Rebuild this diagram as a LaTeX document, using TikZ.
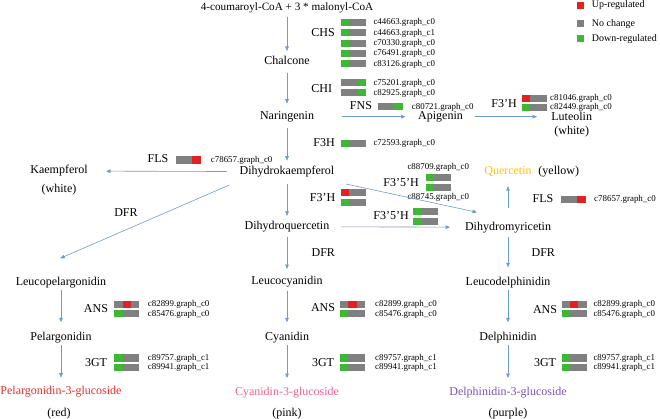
\documentclass[tikz,border=0pt]{standalone}
\usepackage{fontspec}
\setmainfont{Liberation Serif}
\usetikzlibrary{arrows.meta,calc}
\definecolor{arrc}{RGB}{108,155,210}
\definecolor{bred}{RGB}{228,32,32}
\definecolor{bgrn}{RGB}{62,184,52}
\definecolor{bgry}{RGB}{128,128,128}
\definecolor{pred}{RGB}{230,48,40}
\definecolor{cpink}{RGB}{232,98,150}
\definecolor{dpur}{RGB}{122,82,182}
\definecolor{qyel}{RGB}{255,192,0}
\newcommand\ebar[5]{%
  \fill[#3] (#1,#2) rectangle ++(8.33,7.2);
  \fill[#4] (#1+8.33,#2) rectangle ++(8.34,7.2);
  \fill[#5] (#1+16.67,#2) rectangle ++(8.33,7.2);}
\begin{document}
\begin{tikzpicture}[x=1pt,y=-1pt,
  every node/.style={inner sep=0pt},
  txt/.style={font=\fontsize{12}{14}\selectfont, text height=8pt, text depth=2pt},
  headtxt/.style={font=\fontsize{11.2}{13}\selectfont, text height=8pt, text depth=2.5pt},
  gid/.style={font=\fontsize{8.9}{10}\selectfont, anchor=west, text height=6pt, text depth=1.5pt},
  leg/.style={font=\fontsize{10}{12}\selectfont, anchor=west, text height=7pt, text depth=2pt},
  arr/.style={draw=arrc, line width=0.6pt, -{Triangle[length=4.5pt,width=3.6pt]}}]
\useasboundingbox (0,0) rectangle (660,419);

% legend
\fill[bred] (576.6,1.6) rectangle ++(7.4,7.4);
\fill[bgry] (576.6,20) rectangle ++(7.4,7.4);
\fill[bgrn] (576.6,35) rectangle ++(7.4,7.4);
\node[leg] (legu) at (591.7,5.5) {Up-regulated};
\node[leg] (legn) at (591.7,23.6) {No change};
\node[leg] (legd) at (591.7,38.8) {Down-regulated};

% compounds
\node[headtxt] (src) at (287,8) {4-coumaroyl-CoA + 3 * malonyl-CoA};
\node[txt] (chal) at (287,62) {Chalcone};
\node[txt] (nar) at (287,116.7) {Naringenin};
\node[txt] (api) at (440.5,116.7) {Apigenin};
\node[txt] (lut) at (571.7,117.5) {Luteolin};
\node[txt] (lutc) at (571.7,132) {(white)};
\node[txt] (dhk) at (287,171.7) {Dihydrokaempferol};
\node[txt] (kae) at (59,171) {Kaempferol};
\node[txt] (kaec) at (59,190) {(white)};
\node[txt] (dhq) at (287,226.7) {Dihydroquercetin};
\node[txt] (dhm) at (508,227.3) {Dihydromyricetin};
\node[txt, text=qyel] (que) at (508,171.7) {Quercetin};
\node[txt] (quec) at (558.8,171.7) {(yellow)};
\node[txt] (lpel) at (61,282.3) {Leucopelargonidin};
\node[txt] (pel) at (61,337.3) {Pelargonidin};
\node[txt, text=pred] (p3g) at (61,391.7) {Pelargonidin-3-glucoside};
\node[txt] (pelc) at (59,413.3) {(red)};
\node[txt] (lcy) at (287,281.5) {Leucocyanidin};
\node[txt] (cy) at (287,337.3) {Cyanidin};
\node[txt, text=cpink] (c3g) at (287,392) {Cyanidin-3-glucoside};
\node[txt] (cyc) at (287,413.3) {(pink)};
\node[txt] (ld) at (508,282.3) {Leucodelphinidin};
\node[txt] (del) at (508,337.3) {Delphinidin};
\node[txt, text=dpur] (d3g) at (508,392) {Delphinidin-3-glucoside};
\node[txt] (delc) at (508,413.3) {(purple)};

% enzymes
\node[txt] (eCHS) at (323,34) {CHS};
\node[txt] (eCHI) at (321.7,89.3) {CHI};
\node[txt] (eFNS) at (361,106.7) {FNS};
\node[txt] (eF3Ha) at (504,104.3) {F3’H};
\node[txt] (eF3H) at (324,143.3) {F3H};
\node[txt] (eFLSa) at (158,160) {FLS};
\node[txt] (eF3Hb) at (322.5,199) {F3’H};
\node[txt] (eF35a) at (401,184) {F3’5’H};
\node[txt] (eF35b) at (391,216.7) {F3’5’H};
\node[txt] (eFLSb) at (543,200) {FLS};
\node[txt] (eDFRa) at (126,213.3) {DFR};
\node[txt] (eDFRb) at (323.3,253.3) {DFR};
\node[txt] (eDFRc) at (543.3,253.3) {DFR};
\node[txt] (eANSa) at (96,309.3) {ANS};
\node[txt] (eANSb) at (323,308.5) {ANS};
\node[txt] (eANSc) at (545,310) {ANS};
\node[txt] (e3GTa) at (96,363.3) {3GT};
\node[txt] (e3GTb) at (323,363) {3GT};
\node[txt] (e3GTc) at (545,363) {3GT};

% CHS
\ebar{340.7}{19}{bgrn}{bgry}{bgry}
\ebar{340.7}{29.3}{bgrn}{bgry}{bgry}
\ebar{340.7}{39.6}{bgrn}{bgry}{bgry}
\ebar{340.7}{49.9}{bgrn}{bgry}{bgry}
\ebar{340.7}{60.2}{bgrn}{bgry}{bgry}
\node[gid] (g1) at (373.3,22.6) {c44663.graph\_c0};
\node[gid] (g2) at (373.3,32.9) {c44663.graph\_c1};
\node[gid] (g3) at (373.3,43.2) {c70330.graph\_c0};
\node[gid] (g4) at (373.3,53.5) {c76491.graph\_c0};
\node[gid] (g5) at (373.3,63.8) {c83126.graph\_c0};
% CHI
\ebar{341}{79.3}{bgry}{bgry}{bgrn}
\ebar{341}{89.3}{bgry}{bgry}{bgrn}
\node[gid] (g6) at (373.3,82.9) {c75201.graph\_c0};
\node[gid] (g7) at (373.3,92.9) {c82925.graph\_c0};
% FNS
\ebar{377.7}{103.3}{bgry}{bgry}{bgrn}
\node[gid] (g8) at (411.7,106.9) {c80721.graph\_c0};
% F3'H top
\ebar{521.7}{94.7}{bred}{bgry}{bgry}
\ebar{521.7}{104}{bgrn}{bgry}{bgry}
\node[gid] (g9) at (550,98.3) {c81046.graph\_c0};
\node[gid] (g10) at (550,107.6) {c82449.graph\_c0};
% F3H
\ebar{340.7}{140}{bgrn}{bgry}{bgry}
\node[gid] (g11) at (373.3,143.6) {c72593.graph\_c0};
% FLS left
\ebar{175.7}{156.5}{bgry}{bgry}{bred}
\node[gid] (g12) at (210.7,160.1) {c78657.graph\_c0};
% F3'H middle
\ebar{341}{189.3}{bred}{bgry}{bgry}
\ebar{341}{199.3}{bgrn}{bgry}{bgry}
% F3'5'H upper
\ebar{426}{174.3}{bgrn}{bgry}{bgry}
\ebar{426}{184.3}{bgrn}{bgry}{bgry}
\node[gid] (g13) at (407.3,167.3) {c88709.graph\_c0};
\node[gid] (g14) at (407.3,197.7) {c88745.graph\_c0};
% F3'5'H lower
\ebar{413.3}{207.7}{bgrn}{bgry}{bgry}
\ebar{413.3}{217.7}{bgrn}{bgry}{bgry}
% FLS right
\ebar{560.7}{196}{bgry}{bgry}{bred}
\node[gid] (g15) at (594,199.6) {c78657.graph\_c0};
% ANS / 3GT left
\ebar{114.3}{300.7}{bgry}{bred}{bgry}
\ebar{114.3}{310.2}{bgrn}{bgry}{bgry}
\node[gid] (g16) at (147.7,304.3) {c82899.graph\_c0};
\node[gid] (g17) at (147.7,313.8) {c85476.graph\_c0};
\ebar{114.3}{354.3}{bgrn}{bgry}{bgry}
\ebar{114.3}{364}{bgrn}{bgry}{bgry}
\node[gid] (g18) at (147.7,357.9) {c89757.graph\_c1};
\node[gid] (g19) at (147.7,367.6) {c89941.graph\_c1};
% ANS / 3GT middle
\ebar{340}{300.7}{bgry}{bred}{bgry}
\ebar{340}{310.2}{bgrn}{bgry}{bgry}
\node[gid] (g20) at (375,304.3) {c82899.graph\_c0};
\node[gid] (g21) at (375,313.8) {c85476.graph\_c0};
\ebar{340}{354.3}{bgrn}{bgry}{bgry}
\ebar{340}{364}{bgrn}{bgry}{bgry}
\node[gid] (g22) at (375,357.9) {c89757.graph\_c1};
\node[gid] (g23) at (375,367.6) {c89941.graph\_c1};
% ANS / 3GT right
\ebar{561.7}{300.7}{bgry}{bred}{bgry}
\ebar{561.7}{310.2}{bgrn}{bgry}{bgry}
\node[gid] (g24) at (593.3,304.3) {c82899.graph\_c0};
\node[gid] (g25) at (593.3,313.8) {c85476.graph\_c0};
\ebar{561.7}{354.3}{bgrn}{bgry}{bgry}
\ebar{561.7}{364}{bgrn}{bgry}{bgry}
\node[gid] (g26) at (593.3,357.9) {c89757.graph\_c1};
\node[gid] (g27) at (593.3,367.6) {c89941.graph\_c1};

% arrows
\draw[arr, shorten <=9pt, shorten >=11pt] (src.center) -- (chal.center);
\draw[arr, shorten <=10.7pt, shorten >=13pt] (chal.center) -- (nar.center);
\draw[arr, shorten <=11.3pt, shorten >=11pt] (nar.center) -- (dhk.center);
\draw[arr, shorten <=12.3pt, shorten >=10.7pt] (dhk.center) -- (dhq.center);
\draw[arr, shorten <=10pt, shorten >=12.5pt] (dhq.center) -- (lcy.center);
\draw[arr, shorten <=9pt, shorten >=15pt] (lcy.center) -- (cy.center);
\draw[arr, shorten <=8pt, shorten >=14pt] (cy.center) -- (c3g.center);
\draw[arr, shorten <=8pt, shorten >=15pt] (lpel.center) -- (pel.center);
\draw[arr, shorten <=8pt, shorten >=14pt] (pel.center) -- (p3g.center);
\draw[arr, shorten <=9.4pt, shorten >=15pt] (dhm.center) -- (ld.center);
\draw[arr, shorten <=8pt, shorten >=15pt] (ld.center) -- (del.center);
\draw[arr, shorten <=8pt, shorten >=14pt] (del.center) -- (d3g.center);
\draw[arr, shorten <=19pt, shorten >=14.5pt] (dhm.center) -- (que.center);
\draw[arr, shorten <=55pt, shorten >=35pt] (nar.center) -- (api.center);
\draw[arr] ($(api.center)+(34.5,0)$) -- ($(lut.center)+(-34.7,-0.8)$);
\draw[arr, shorten <=54.2pt, shorten >=58pt] (dhq.center) -- (dhm.center);
\draw[arr, shorten <=60.3pt, shorten >=47pt] (dhk.center) -- (kae.center);
\draw[arr] ($(dhk.center)+(59,12.3)$) -- ($(dhm.center)+(-31,-15)$);
\draw[arr] ($(dhk.center)+(-57.7,13.3)$) -- ($(lpel.center)+(-0.8,-24)$);
\end{tikzpicture}
\end{document}
